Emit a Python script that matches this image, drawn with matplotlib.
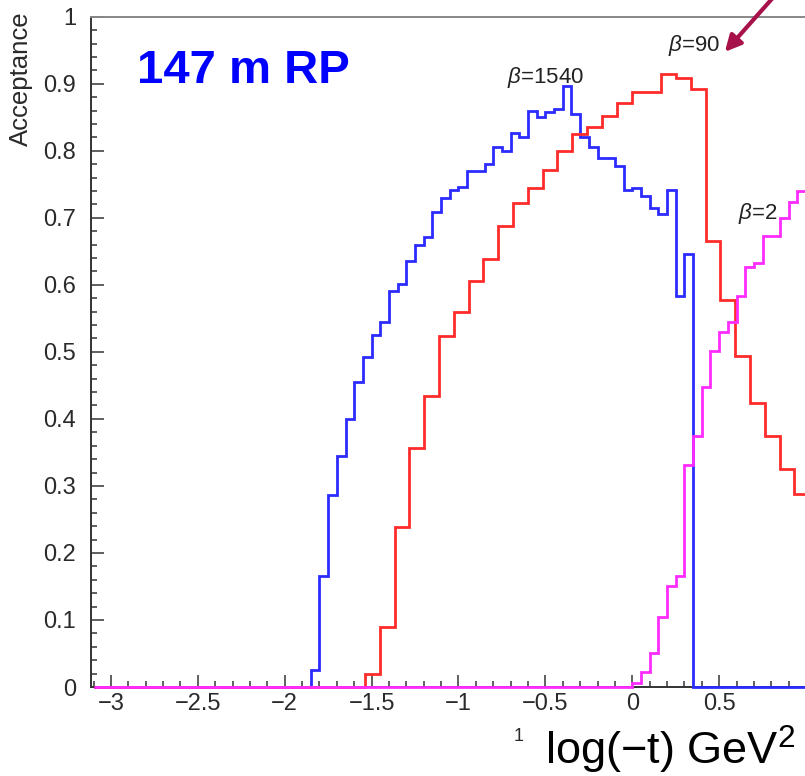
import numpy as np
import matplotlib
matplotlib.use("Agg")
import matplotlib.pyplot as plt
from matplotlib.ticker import MultipleLocator, FuncFormatter

plt.rcParams['font.family'] = ['Liberation Sans', 'DejaVu Sans']
plt.rcParams['mathtext.fontset'] = 'custom'
plt.rcParams['mathtext.rm'] = 'Liberation Sans'
plt.rcParams['mathtext.it'] = 'Liberation Sans:italic'
plt.rcParams['mathtext.bf'] = 'Liberation Sans:bold'

# ---- histogram contents: acceptance per bin of log10(-t) ----
x_min, x_max = -3.1, 1.0

# beta* = 1540 optics (bins of 0.05 starting at -1.85)
blue_lo, blue_w = -1.85, 0.05
blue_vals = [0.025, 0.165, 0.286, 0.344, 0.400, 0.455, 0.492, 0.525, 0.544, 0.591,
             0.601, 0.636, 0.660, 0.671, 0.708, 0.729, 0.741, 0.746, 0.770, 0.770,
             0.780, 0.805, 0.800, 0.826, 0.821, 0.860, 0.851, 0.858, 0.862, 0.897,
             0.855, 0.821, 0.806, 0.789, 0.789, 0.777, 0.742, 0.745, 0.732, 0.715,
             0.706, 0.742, 0.583, 0.646]

# beta* = 90 optics (coarser binning)
red_lo, red_w = -1.538, 0.0852
red_vals = [0.020, 0.090, 0.238, 0.357, 0.434, 0.523, 0.560, 0.606, 0.639, 0.688,
            0.722, 0.744, 0.772, 0.800, 0.825, 0.836, 0.852, 0.871, 0.887, 0.887,
            0.915, 0.908, 0.892, 0.666, 0.578, 0.494, 0.423, 0.375, 0.325, 0.288]

# beta* = 2 optics (bins of 0.05 starting at 0)
pink_lo, pink_w = 0.0, 0.05
pink_vals = [0.006, 0.023, 0.050, 0.104, 0.151, 0.166, 0.331, 0.375, 0.447, 0.501,
             0.530, 0.544, 0.584, 0.627, 0.632, 0.673, 0.673, 0.700, 0.724, 0.740]

series = [
    (blue_lo, blue_w, blue_vals, '#2b2bff'),
    (red_lo, red_w, red_vals, '#ff2b2b'),
    (pink_lo, pink_w, pink_vals, '#ff2bff'),
]

fig = plt.figure(figsize=(8.05, 7.76), dpi=100)
W, H = 805.0, 776.0
ax = fig.add_axes([91.3 / W, 1 - 687 / H, 1 - 91.3 / W, (687 - 16.7) / H])


def full_range(lo, w, vals):
    """Pad a histogram with empty bins so it spans the whole axis range."""
    vals = list(vals)
    edges = list(lo + w * np.arange(len(vals) + 1))
    if edges[0] > x_min:
        edges = [x_min] + edges
        vals = [0.0] + vals
    if edges[-1] < x_max:
        edges = edges + [x_max]
        vals = vals + [0.0]
    return np.array(vals), np.array(edges)


for lo, w, vals, col in series:
    v, e = full_range(lo, w, vals)
    ax.stairs(v, e, baseline=None, color=col, lw=2.0, clip_on=False, zorder=3)

ax.set_xlim(-3.113, 0.994)
ax.set_ylim(0, 1)

ax.xaxis.set_major_locator(MultipleLocator(0.5))
ax.xaxis.set_minor_locator(MultipleLocator(0.1))
ax.yaxis.set_major_locator(MultipleLocator(0.1))
ax.yaxis.set_minor_locator(MultipleLocator(0.02))
fmt = FuncFormatter(lambda v, p: ('%g' % round(v, 3)).replace('-', '\u2212'))
ax.xaxis.set_major_formatter(fmt)
ax.yaxis.set_major_formatter(fmt)

ax.tick_params(which='both', direction='in', color='#444444', width=1.2,
               labelcolor='#2a2a2a', labelsize=17)
ax.tick_params(which='major', length=9)
ax.tick_params(which='minor', length=4.5)
ax.tick_params(axis='x', which='major', pad=4)
ax.tick_params(axis='y', which='major', pad=11)

ax.spines['right'].set_visible(False)
ax.spines['left'].set_color('#333333')
ax.spines['bottom'].set_color('#333333')
ax.spines['top'].set_color('#888888')
for s in ('left', 'bottom', 'top'):
    ax.spines[s].set_linewidth(1.4)

# curve labels
lab_kw = dict(ha='center', va='center', fontsize=16, color='#222222')
ax.text(-0.497, 0.909, r'$\beta$=1540', **lab_kw)
ax.text(0.355, 0.957, r'$\beta$=90', **lab_kw)
ax.text(0.722, 0.707, r'$\beta$=2', **lab_kw)

# arrow pointing at the beta=90 label
fig.patches.append(matplotlib.patches.FancyArrowPatch(
    (778 / W, 1 + 8 / H), (723 / W, 1 - 54 / H), transform=fig.transFigure,
    arrowstyle='-|>', mutation_scale=24, lw=3, color='#a8124a'))

fig.text(137 / W, 1 - 83.3 / H, '147 m RP', ha='left', va='baseline',
         fontsize=34, fontweight='bold', color='#0000ff')

fig.text(21 / W, 1 - 11 / H, 'Acceptance', rotation=90, ha='center', va='top',
         fontsize=18.5, color='#2a2a2a')

fig.text(545 / W, 1 - 765 / H, r'log($-$t) GeV$^2$', ha='left', va='baseline',
         fontsize=32.5, color='#000000')
fig.text(519 / W, 1 - 741 / H, '1', ha='center', va='baseline', fontsize=13,
         color='#2a2a2a')

fig.savefig('out.png', dpi=100)
